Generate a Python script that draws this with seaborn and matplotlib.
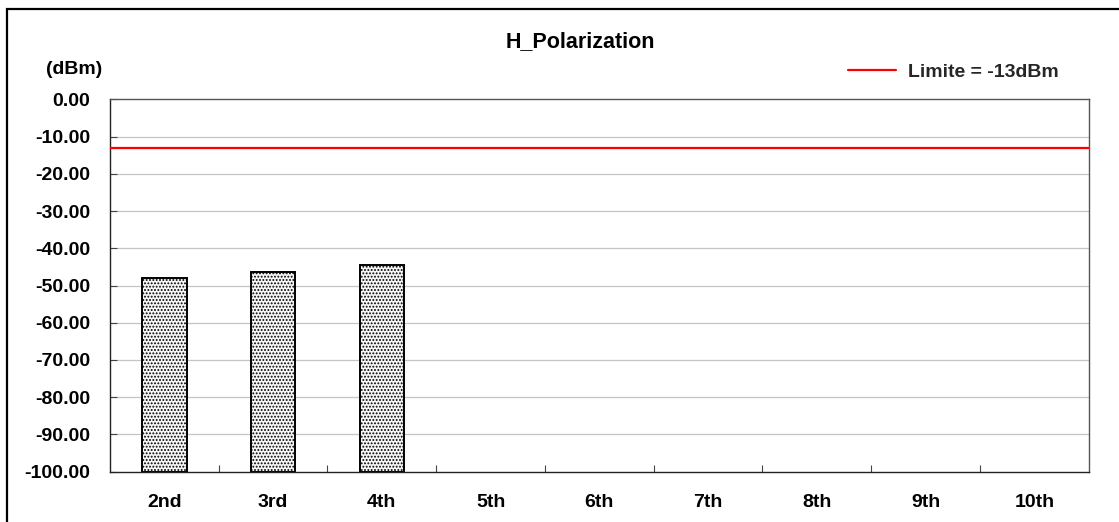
import numpy as np
import pandas as pd
import matplotlib
matplotlib.use("Agg")
import matplotlib.pyplot as plt
from matplotlib.patches import Rectangle
from matplotlib.ticker import FixedLocator, FormatStrFormatter
import seaborn as sns

# Harmonic orders and measured spurious emission levels (dBm)
harmonics = ["2nd", "3rd", "4th", "5th", "6th", "7th", "8th", "9th", "10th"]
levels_dbm = [-48.0, -46.4, -44.6, np.nan, np.nan, np.nan, np.nan, np.nan, np.nan]
limit_dbm = -13.0
y_ticks = [0, -10, -20, -30, -40, -50, -60, -70, -80, -90, -100]
floor_dbm = -100.0

sns.set_theme(style="white")
plt.rcParams["font.family"] = ["Liberation Sans", "DejaVu Sans"]
plt.rcParams["font.weight"] = "bold"
plt.rcParams["hatch.color"] = "#c2c2c2"
plt.rcParams["hatch.linewidth"] = 0.9

df = pd.DataFrame({"harmonic": harmonics, "level": levels_dbm})
# bars rise from the chart floor up to each measured level
df["span"] = df["level"] - floor_dbm

fig = plt.figure(figsize=(11.19, 5.22), dpi=100)
ax = fig.add_axes([110 / 1119, 1 - 471.5 / 522, (1088.7 - 110) / 1119, (471.5 - 99.5) / 522])

sns.barplot(data=df, x="harmonic", y="span", order=harmonics, ax=ax,
            width=0.41, color="#f0f0f0", edgecolor="black", linewidth=1.4,
            bottom=floor_dbm, errorbar=None, saturation=1)
for bar in ax.patches:
    bar.set_hatch(".....")
    bar.set_facecolor("#f6f6f6")
    bar.set_edgecolor("black")

ax.set_xlim(-0.5, len(harmonics) - 0.5)
ax.set_ylim(floor_dbm, 0)

# grid lines drawn at every 10 dBm
for yv in y_ticks[1:-1]:
    ax.axhline(yv, color="#c4c4c4", lw=0.9, zorder=0)

line, = ax.plot([-0.5, len(harmonics) - 0.5], [limit_dbm, limit_dbm],
                color="#ff0000", lw=1.6, zorder=3, label="Limite = -13dBm")

ax.yaxis.set_major_locator(FixedLocator(y_ticks))
ax.yaxis.set_major_formatter(FormatStrFormatter("%.2f"))
ax.tick_params(axis="y", direction="in", length=5, width=0.8, color="#444444",
               pad=14.4, labelsize=14, left=True)
ax.set_xticks(range(len(harmonics)))
ax.set_xticklabels(harmonics)
ax.xaxis.set_minor_locator(FixedLocator(np.arange(0.5, len(harmonics) - 0.5, 1.0)))
ax.tick_params(axis="x", which="major", length=0, pad=16, labelsize=14)
ax.tick_params(axis="x", which="minor", direction="in", length=5, width=0.8,
               color="#444444", bottom=True)
for lab in ax.get_xticklabels() + ax.get_yticklabels():
    lab.set_fontweight("bold")
    lab.set_color("black")

ax.set_xlabel("")
ax.set_ylabel("")
for side, sp in ax.spines.items():
    sp.set_visible(True)
    sp.set_linewidth(1.0)
    sp.set_color("#222222" if side in ("left", "bottom") else "#555555")

fig.text(580 / 1119, 1 - 42 / 522, "H_Polarization", ha="center", va="center",
         fontsize=15.5, fontweight="bold", color="black")
fig.text(74 / 1119, 1 - 69 / 522, "(dBm)", ha="center", va="center",
         fontsize=14, fontweight="bold", color="black")

fig.legend(handles=[line], loc="center left", bbox_to_anchor=(848 / 1119, 1 - 72 / 522),
           frameon=False, fontsize=14, handlelength=2.47, handletextpad=0.62,
           borderpad=0, borderaxespad=0)

# frame around the whole chart area
fig.patches.append(Rectangle((7 / 1119, -0.05), 1.2, 1 - 9 / 522 + 0.05,
                             transform=fig.transFigure, fill=False,
                             edgecolor="black", linewidth=1.6, zorder=10))

fig.savefig("out.png", dpi=100, facecolor="white")
